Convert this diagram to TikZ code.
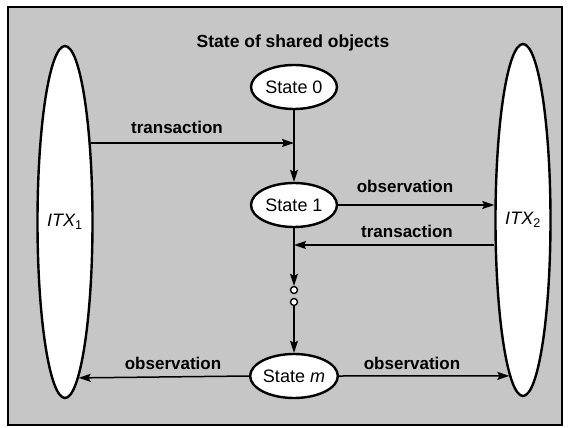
\documentclass[tikz,border=0pt]{standalone}
\usepackage{fontspec}
\setmainfont{Liberation Sans}
\usetikzlibrary{shapes.geometric,arrows.meta}
\definecolor{bggray}{RGB}{198,198,198}
\begin{document}
\begin{tikzpicture}[x=1pt,y=-1pt,
  lbl/.style={font=\fontsize{17}{19}\selectfont\bfseries, inner sep=0pt},
  agent/.style={ellipse, draw, fill=white, line width=2.4pt, inner sep=0pt,
    minimum width=55pt, minimum height=352pt, font=\fontsize{18}{20}\selectfont\itshape},
  statebox/.style={ellipse, draw, fill=white, line width=2.4pt, inner sep=0pt,
    minimum width=86pt, minimum height=44pt, font=\fontsize{18}{20}\selectfont},
  dotc/.style={circle, draw, fill=white, line width=1.4pt, inner sep=0pt, minimum size=7pt},
  conn/.style={line width=1.5pt, -{Stealth[length=12pt,width=8pt,inset=2pt]}},
  plain/.style={line width=1.5pt}]
\useasboundingbox (0,0) rectangle (568,428);
\node[draw, line width=1.5pt, fill=bggray, minimum width=554pt, minimum height=418pt, inner sep=0pt] (frame) at (285,216) {};
\node[font=\fontsize{17.5}{19}\selectfont\bfseries] (title) at (293,43) {State of shared objects};
\node[agent] (itx1) at (65,222) {ITX\textsubscript{\upshape 1}};
\node[agent] (itx2) at (523,220) {ITX\textsubscript{\upshape 2}};
\node[statebox] (s0) at (294,87) {State 0};
\node[statebox] (s1) at (294,205) {State 1};
\node[dotc] (c1) at (294,290) {};
\node[dotc] (c2) at (294,302) {};
\node[statebox] (sm) at (294,376) {State \textit{m}};
% top transaction
\coordinate (j1) at (itx1.72 -| s0.south);
\draw[plain] (s0.south) -- (j1);
\draw[conn] (j1) -- (s1.north);
\draw[conn] (itx1.72) -- (j1);
\node[lbl] (lt1) at (177,127) {transaction};
% observation to ITX2
\draw[conn] (s1.east) -- (s1.east -| itx2.west);
\node[lbl] (lo1) at (405,186) {observation};
% transaction from ITX2
\coordinate (j2) at (294,245);
\coordinate (j2s) at (j2 -| itx2.west);
\draw[conn] (j2s) -- (j2);
\node[lbl] (lt2) at (407,231) {transaction};
% chain
\draw[conn] (s1.south) -- (c1.north);
\draw[conn] (c2.south) -- (sm.north);
% bottom observations
\draw[conn] (sm.west) -- (itx1.-85);
\draw[conn] (sm.east) -- (itx2.265.4);
\node[lbl] (lo2) at (173,363) {observation};
\node[lbl] (lo3) at (412,363) {observation};
\end{tikzpicture}
\end{document}
